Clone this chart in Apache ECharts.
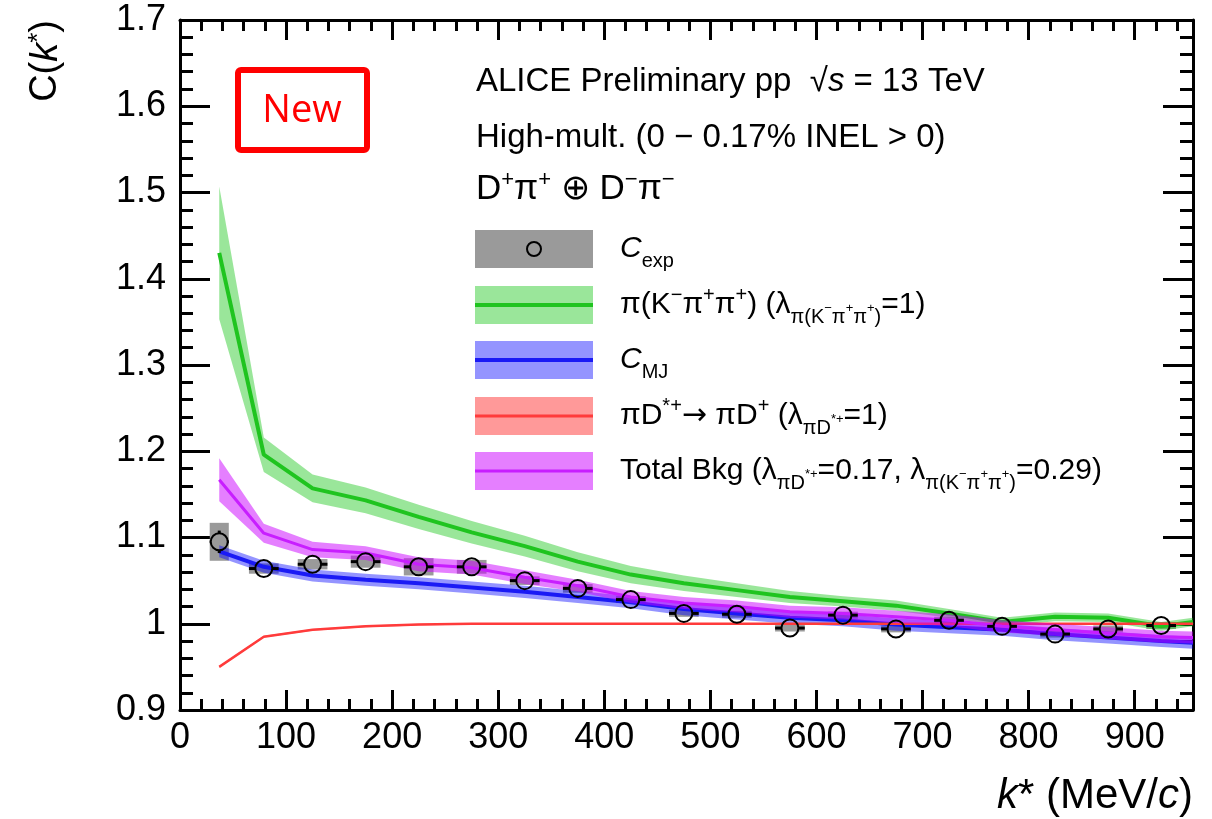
<!DOCTYPE html>
<html>
<head>
<meta charset="utf-8">
<script src="https://cdn.jsdelivr.net/npm/echarts@6/dist/echarts.min.js"></script>
<style>html,body{margin:0;padding:0;background:#fff;}#c{width:1212px;height:819px;}</style>
</head>
<body>
<div id="c"></div>
<script>
// ---------- data ----------
const kModel = [37, 79, 125, 175, 225, 275, 325, 375, 425, 475, 525, 575, 625, 675, 725, 775, 825, 875, 925, 955];
const greenC = [1.430, 1.196, 1.157, 1.143, 1.124, 1.106, 1.090, 1.072, 1.057, 1.047, 1.039, 1.031, 1.026, 1.021, 1.012, 1.002, 1.008, 1.007, 0.997, 1.002];
const greenE = [0.077, 0.020, 0.016, 0.015, 0.014, 0.013, 0.012, 0.011, 0.010, 0.009, 0.008, 0.007, 0.006, 0.006, 0.005, 0.005, 0.005, 0.005, 0.005, 0.005];
const blueC  = [1.084, 1.066, 1.056, 1.051, 1.047, 1.042, 1.037, 1.031, 1.025, 1.017, 1.012, 1.007, 1.004, 0.999, 0.996, 0.993, 0.988, 0.984, 0.980, 0.978];
const blueE  = [0.007, 0.007, 0.007, 0.007, 0.007, 0.007, 0.007, 0.007, 0.007, 0.007, 0.007, 0.007, 0.007, 0.007, 0.007, 0.007, 0.007, 0.007, 0.007, 0.007];
const redC   = [0.950, 0.985, 0.993, 0.997, 0.999, 1.000, 1.000, 1.000, 1.000, 1.000, 1.000, 1.000, 1.000, 1.000, 1.000, 1.000, 1.000, 1.000, 1.000, 1.000];
const redE   = [0.001, 0.001, 0.001, 0.001, 0.001, 0.001, 0.001, 0.001, 0.001, 0.001, 0.001, 0.001, 0.001, 0.001, 0.001, 0.001, 0.001, 0.001, 0.001, 0.001];
const purpC  = [1.167, 1.105, 1.086, 1.082, 1.069, 1.065, 1.054, 1.044, 1.031, 1.024, 1.020, 1.014, 1.012, 1.008, 1.004, 0.997, 0.993, 0.989, 0.985, 0.984];
const purpE  = [0.025, 0.011, 0.009, 0.008, 0.008, 0.008, 0.008, 0.007, 0.007, 0.007, 0.007, 0.007, 0.007, 0.007, 0.007, 0.007, 0.007, 0.007, 0.007, 0.007];

const kExp    = [37, 79, 125, 175, 225, 275, 325, 375, 425, 475, 525, 575, 625, 675, 725, 775, 825, 875, 925];
const cExp    = [1.095, 1.064, 1.069, 1.072, 1.066, 1.066, 1.050, 1.041, 1.028, 1.012, 1.011, 0.995, 1.010, 0.994, 1.004, 0.997, 0.988, 0.994, 0.998];
const statErr = [0.013, 0.004, 0.004, 0.004, 0.004, 0.004, 0.004, 0.004, 0.004, 0.004, 0.004, 0.004, 0.004, 0.004, 0.004, 0.004, 0.004, 0.004, 0.004];
const systErr = [0.022, 0.006, 0.006, 0.007, 0.010, 0.008, 0.005, 0.005, 0.004, 0.004, 0.004, 0.004, 0.004, 0.004, 0.004, 0.004, 0.004, 0.004, 0.004];
const kErr    = [9, 14, 14, 14, 14, 14, 14, 14, 14, 14, 14, 14, 14, 14, 14, 14, 14, 14, 14];

const xTicks = [0, 100, 200, 300, 400, 500, 600, 700, 800, 900];
const yTicks = [0.9, 1.0, 1.1, 1.2, 1.3, 1.4, 1.5, 1.6, 1.7];

// ---------- styles ----------
const FONT = "'Liberation Sans', Arial, Helvetica, sans-serif";
const COL = {
  greenBand: 'rgba(30,200,30,0.45)', greenLine: '#1fc41f',
  blueBand: 'rgba(0,0,255,0.42)', blueLine: '#1a1af5',
  redBand: 'rgba(255,0,0,0.4)', redLine: '#ff3b3b',
  purpBand: 'rgba(204,0,255,0.5)', purpLine: '#c81eff',
  box: 'rgba(120,120,120,0.75)'
};

const chart = echarts.init(document.getElementById('c'), null, {renderer: 'canvas'});

function bandSeries(center, err, color, z) {
  const lo = center.map((c, i) => c - err[i]);
  const hi = center.map((c, i) => c + err[i]);
  return {
    type: 'custom', z: z, silent: true,
    data: kModel.map((k, i) => [k, lo[i], hi[i]]),
    encode: {x: 0, y: [1, 2]},
    renderItem: function (params, api) {
      if (params.dataIndex !== 0) return null;
      const pts = [];
      for (let i = 0; i < kModel.length; i++) pts.push(api.coord([kModel[i], hi[i]]));
      for (let i = kModel.length - 1; i >= 0; i--) pts.push(api.coord([kModel[i], lo[i]]));
      return {type: 'polygon', shape: {points: pts}, style: {fill: color}};
    }
  };
}
function lineSeries(center, color, width, z) {
  return {
    type: 'line', z: z, silent: true, symbol: 'none', animation: false,
    data: kModel.map((k, i) => [k, center[i]]),
    lineStyle: {color: color, width: width}
  };
}

const expData = kExp.map((k, i) => [k, cExp[i], statErr[i], systErr[i], kErr[i]]);

const boxSeries = {
  type: 'custom', z: 1, silent: true, data: expData, encode: {x: 0, y: 1},
  renderItem: function (params, api) {
    const k = api.value(0), c = api.value(1), sy = api.value(3), xe = api.value(4);
    const a = api.coord([k - xe, c + sy]);
    const b = api.coord([k + xe, c - sy]);
    return {type: 'rect', shape: {x: a[0], y: a[1], width: b[0] - a[0], height: b[1] - a[1]}, style: {fill: COL.box}};
  }
};
const markerSeries = {
  type: 'custom', z: 20, silent: true, data: expData, encode: {x: 0, y: 1},
  renderItem: function (params, api) {
    const k = api.value(0), c = api.value(1), st = api.value(2), xe = api.value(4);
    const p = api.coord([k, c]);
    const l = api.coord([k - xe, c]), r = api.coord([k + xe, c]);
    const t = api.coord([k, c + st]), b = api.coord([k, c - st]);
    const R = 8.5;
    const st2 = {stroke: '#000', lineWidth: 3};
    const ch = [];
    if (p[0] - l[0] > R) ch.push({type: 'line', shape: {x1: l[0], y1: p[1], x2: p[0] - R, y2: p[1]}, style: st2});
    if (r[0] - p[0] > R) ch.push({type: 'line', shape: {x1: p[0] + R, y1: p[1], x2: r[0], y2: p[1]}, style: st2});
    if (p[1] - t[1] > R) ch.push({type: 'line', shape: {x1: p[0], y1: t[1], x2: p[0], y2: p[1] - R}, style: st2});
    if (b[1] - p[1] > R) ch.push({type: 'line', shape: {x1: p[0], y1: p[1] + R, x2: p[0], y2: b[1]}, style: st2});
    ch.push({type: 'circle', shape: {cx: p[0], cy: p[1], r: R}, style: {fill: 'none', stroke: '#000', lineWidth: 2}});
    return {type: 'group', children: ch};
  }
};

function xAxisDef(pos, showLabel) {
  return {
    type: 'value', position: pos, min: 0, max: 955, interval: 100,
    axisLine: {show: true, onZero: false, lineStyle: {color: '#000', width: 3}},
    axisTick: {show: true, inside: true, length: 20, lineStyle: {color: '#000', width: 3}},
    minorTick: {show: true, splitNumber: 5, length: 11, lineStyle: {color: '#000', width: 3}},
    splitLine: {show: false}, minorSplitLine: {show: false},
    axisLabel: {show: showLabel, color: '#000', fontSize: 36, fontFamily: FONT, margin: 10,
      formatter: function (v) { return xTicks.indexOf(v) >= 0 ? String(v) : ''; }}
  };
}
function yAxisDef(pos, showLabel) {
  return {
    type: 'value', position: pos, min: 0.9, max: 1.7, interval: 0.1,
    axisLine: {show: true, onZero: false, lineStyle: {color: '#000', width: 3}},
    axisTick: {show: true, inside: true, length: 30, lineStyle: {color: '#000', width: 3}},
    minorTick: {show: true, splitNumber: 5, length: 13, lineStyle: {color: '#000', width: 3}},
    splitLine: {show: false}, minorSplitLine: {show: false},
    axisLabel: {show: showLabel, color: '#000', fontSize: 36, fontFamily: FONT, margin: 14}
  };
}

// rich text styles
function rich(main, sub) {
  return {
    n: {fontSize: main, fontFamily: FONT, fill: '#000', lineHeight: 44, verticalAlign: 'middle'},
    i: {fontSize: main, fontFamily: FONT, fontStyle: 'italic', fill: '#000', lineHeight: 44, verticalAlign: 'middle'},
    ar: {fontSize: main, fontFamily: "'DejaVu Sans', sans-serif", fill: '#000', lineHeight: 44, verticalAlign: 'middle'},
    sup: {fontSize: sub, fontFamily: FONT, fill: '#000', lineHeight: sub, verticalAlign: 'top', padding: [2, 0, 0, 0]},
    sub: {fontSize: sub, fontFamily: FONT, fill: '#000', lineHeight: sub, verticalAlign: 'bottom'},
    ss: {fontSize: Math.round(sub * 0.65), fontFamily: FONT, fill: '#000', lineHeight: 10, verticalAlign: 'bottom', padding: [0, 0, 12, 0]}
  };
}
const R30 = rich(30, 20);

const legendRows = [
  {y: 249, band: COL.box, line: null, marker: true,
   text: '{i|C}{sub|exp}'},
  {y: 305, band: COL.greenBand, line: COL.greenLine, lw: 4,
   text: '{n|π(K}{sup|−}{n|π}{sup|+}{n|π}{sup|+}{n|) (λ}{sub|π(K}{ss|−}{sub|π}{ss|+}{sub|π}{ss|+}{sub|)}{n|=1)}'},
  {y: 360, band: COL.blueBand, line: COL.blueLine, lw: 4,
   text: '{i|C}{sub|MJ}'},
  {y: 416, band: COL.redBand, line: COL.redLine, lw: 3,
   text: '{n|πD}{sup|*+}{ar|→}{n| πD}{sup|+}{n| (λ}{sub|πD}{ss|*+}{n|=1)}'},
  {y: 471, band: COL.purpBand, line: COL.purpLine, lw: 3,
   text: '{n|Total Bkg (λ}{sub|πD}{ss|*+}{n|=0.17, λ}{sub|π(K}{ss|−}{sub|π}{ss|+}{sub|π}{ss|+}{sub|)}{n|=0.29)}'}
];

const graphics = [];
legendRows.forEach(r => {
  graphics.push({type: 'rect', z: 50, shape: {x: 475, y: r.y - 19, width: 118, height: 38}, style: {fill: r.band}});
  if (r.line) graphics.push({type: 'line', z: 51, shape: {x1: 475, y1: r.y, x2: 593, y2: r.y}, style: {stroke: r.line, lineWidth: r.lw}});
  if (r.marker) graphics.push({type: 'circle', z: 51, shape: {cx: 534, cy: r.y, r: 7}, style: {fill: 'none', stroke: '#000', lineWidth: 2}});
  graphics.push({type: 'text', z: 52, x: 620, y: r.y, style: {text: r.text, rich: R30, align: 'left', verticalAlign: 'middle'}});
});

// header texts
graphics.push({type: 'text', z: 52, x: 476, y: 82, style: {
  text: '{n|ALICE Preliminary pp  √}{i|s}{n| = 13 TeV}', rich: rich(33, 21), align: 'left', verticalAlign: 'middle'}});
graphics.push({type: 'text', z: 52, x: 476, y: 138, style: {
  text: '{n|High-mult. (0 − 0.17% INEL > 0)}', rich: rich(33, 21), align: 'left', verticalAlign: 'middle'}});
graphics.push({type: 'text', z: 52, x: 476, y: 189, style: {
  text: '{n|D}{sup|+}{n|π}{sup|+}{n| ⊕ D}{sup|−}{n|π}{sup|−}', rich: rich(35, 22), align: 'left', verticalAlign: 'middle'}});

// "New" box
graphics.push({type: 'rect', z: 52, shape: {x: 238, y: 70, width: 129, height: 80, r: 3}, style: {fill: '#fff', stroke: '#ff0000', lineWidth: 6}});
graphics.push({type: 'text', z: 53, x: 302, y: 111, style: {text: 'New', fill: '#ff0000', fontSize: 38, fontFamily: "'Open Sans', 'Noto Sans', sans-serif", align: 'center', verticalAlign: 'middle'}});

// axis titles
graphics.push({type: 'text', z: 52, x: 46, y: 20, rotation: Math.PI / 2, style: {
  text: '{n|C(}{i|k}{sup|*}{n|)}', rich: rich(38, 26), align: 'right', verticalAlign: 'middle'}});
graphics.push({type: 'text', z: 52, x: 1193, y: 796, style: {
  text: '{i|k}{n|* (MeV/}{i|c}{n|)}', rich: rich(42, 28), align: 'right', verticalAlign: 'middle'}});

const option = {
  animation: false,
  backgroundColor: '#ffffff',
  grid: {left: 180, right: 19, top: 20, bottom: 109, show: false},
  xAxis: [xAxisDef('bottom', true), xAxisDef('top', false)],
  yAxis: [yAxisDef('left', true), yAxisDef('right', false)],
  series: [
    boxSeries,
    bandSeries(greenC, greenE, COL.greenBand, 2),
    lineSeries(greenC, COL.greenLine, 4, 3),
    bandSeries(blueC, blueE, COL.blueBand, 4),
    lineSeries(blueC, COL.blueLine, 4, 5),
    bandSeries(redC, redE, COL.redBand, 6),
    lineSeries(redC, COL.redLine, 2.5, 7),
    bandSeries(purpC, purpE, COL.purpBand, 8),
    lineSeries(purpC, COL.purpLine, 3, 9),
    markerSeries
  ],
  graphic: graphics
};
chart.setOption(option);
</script>
</body>
</html>
